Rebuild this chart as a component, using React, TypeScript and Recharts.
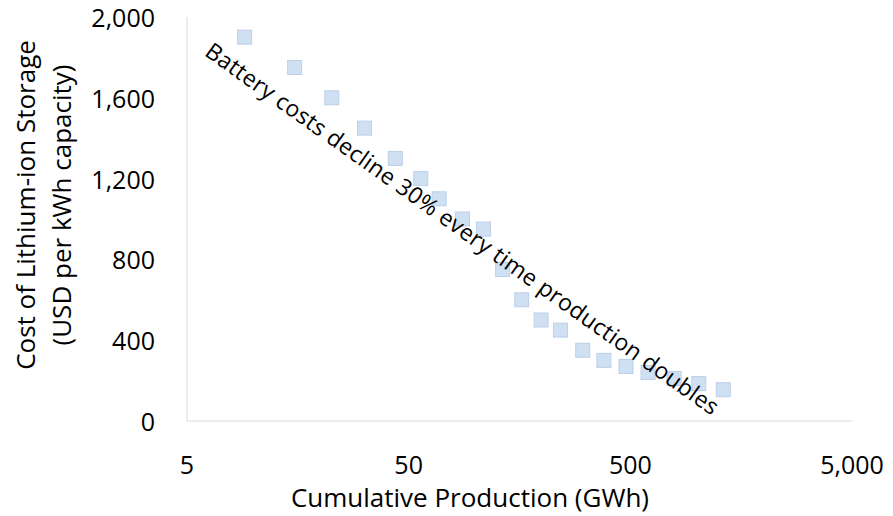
import React from 'react';
import { ScatterChart, Scatter, XAxis, YAxis, ReferenceDot, Label } from 'recharts';

const production = [9.1, 15.3, 22.5, 31.6, 43.5, 56.7, 68.6, 87.5, 108.7, 132.7, 161.8, 197.8, 242, 305, 380, 478, 601, 788, 1018, 1313];
const cost = [1900, 1750, 1600, 1450, 1300, 1200, 1100, 1000, 950, 750, 600, 500, 450, 350, 300, 270, 240, 210, 185, 155];
const xTicks = [5, 50, 500, 5000];
const yTicks = [0, 400, 800, 1200, 1600, 2000];
const xTitle = 'Cumulative Production (GWh)';
const yTitle1 = 'Cost of Lithium-ion Storage';
const yTitle2 = '(USD per kWh capacity)';
const note = 'Battery costs decline 30% every time production doubles';
const notePos = { x: 87.8, y: 955 };

const data = production.map((p, i) => ({ x: p, y: cost[i] }));

const FONT = '"Open Sans", sans-serif';
const fmt = (v: number) => v.toLocaleString('en-US');

const Square = (props: any) => {
  const { cx, cy } = props;
  return <rect x={cx - 7} y={cy - 7} width={14} height={14} fill="#d0e0f3" stroke="#bccfe9" strokeWidth={1} />;
};

const XTick = (props: any) => {
  const { x, y, payload } = props;
  return (
    <text x={x} y={y + 41} textAnchor="middle" dominantBaseline="central" fontFamily={FONT} fontSize={25} fill="#000">
      {fmt(payload.value)}
    </text>
  );
};

const YTick = (props: any) => {
  const { x, y, payload } = props;
  return (
    <text x={x - 30} y={y} textAnchor="end" dominantBaseline="central" fontFamily={FONT} fontSize={25} fill="#000">
      {fmt(payload.value)}
    </text>
  );
};

const NoteShape = (props: any) => {
  const { cx, cy } = props;
  return (
    <text
      x={cx}
      y={cy}
      textAnchor="middle"
      dominantBaseline="central"
      fontFamily={FONT}
      fontSize={23}
      letterSpacing={0.3}
      fill="#000"
      transform={`rotate(35.4, ${cx}, ${cy})`}
    >
      {note}
    </text>
  );
};

export default function App() {
  return (
    <div style={{ position: 'absolute', left: 0, top: 0, width: 893, height: 516, background: '#fff' }}>
      <ScatterChart width={893} height={516} margin={{ top: 17, right: 41, left: 0, bottom: 0 }}>
        <XAxis
          type="number"
          dataKey="x"
          scale="log"
          domain={[5, 5000]}
          ticks={xTicks}
          allowDataOverflow
          height={95}
          tickLine={false}
          tickSize={0}
          axisLine={{ stroke: '#d9d9d9', strokeWidth: 1 }}
          tick={<XTick />}
          interval={0}
        >
          <Label
            content={(p: any) => {
              const vb = p.viewBox;
              return (
                <text x={vb.x + 283} y={vb.y + 76} textAnchor="middle" dominantBaseline="central" fontFamily={FONT} fontSize={26} fill="#000">
                  {xTitle}
                </text>
              );
            }}
          />
        </XAxis>
        <YAxis
          type="number"
          dataKey="y"
          domain={[0, 2000]}
          ticks={yTicks}
          width={187}
          tickLine={false}
          tickSize={0}
          axisLine={{ stroke: '#d9d9d9', strokeWidth: 1 }}
          tick={<YTick />}
          interval={0}
        >
          <Label
            content={(p: any) => {
              const vb = p.viewBox;
              const cy = vb.y + 188;
              return (
                <g>
                  <text x={25} y={cy} transform={`rotate(-90, 25, ${cy})`} textAnchor="middle" dominantBaseline="central" fontFamily={FONT} fontSize={26} fill="#000">
                    {yTitle1}
                  </text>
                  <text x={61} y={cy} transform={`rotate(-90, 61, ${cy})`} textAnchor="middle" dominantBaseline="central" fontFamily={FONT} fontSize={26} fill="#000">
                    {yTitle2}
                  </text>
                </g>
              );
            }}
          />
        </YAxis>
        <Scatter data={data} shape={<Square />} isAnimationActive={false} />
        <ReferenceDot x={notePos.x} y={notePos.y} r={0} shape={<NoteShape />} ifOverflow="visible" />
      </ScatterChart>
    </div>
  );
}
